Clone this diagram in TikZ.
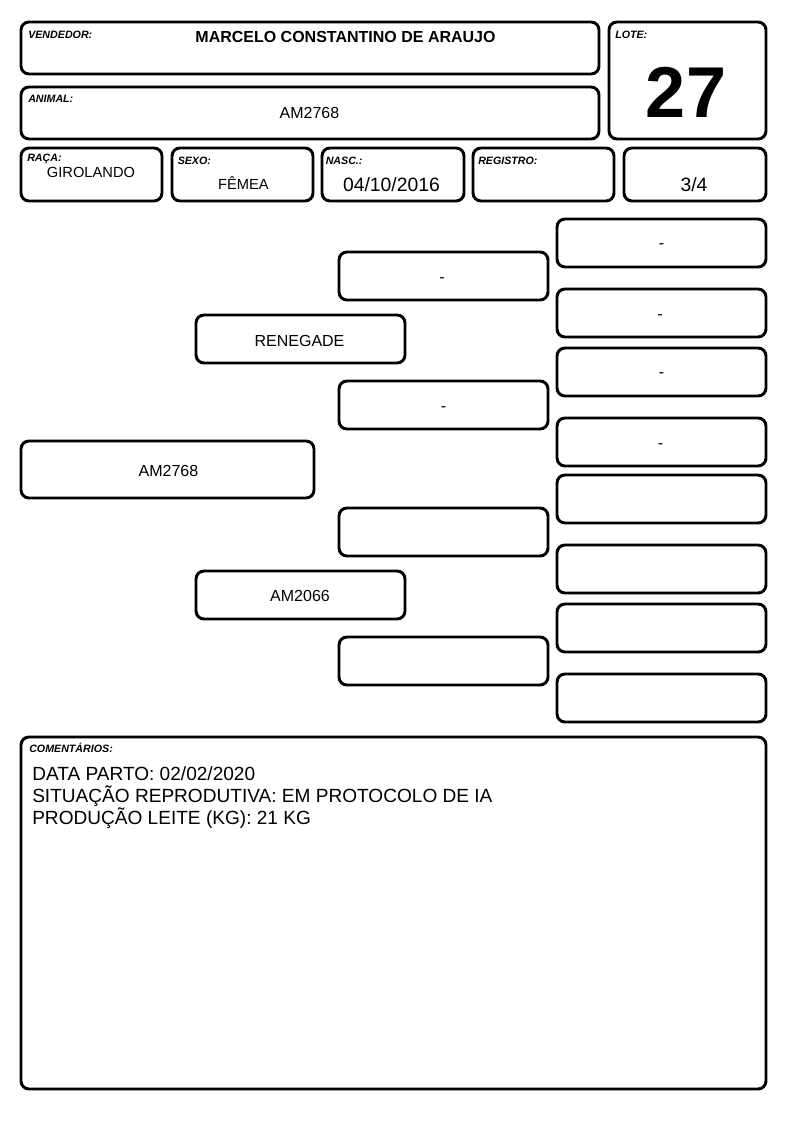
\documentclass[tikz,border=0pt]{standalone}
\usepackage{fontspec}
\setmainfont{Liberation Sans}

\begin{document}
\begin{tikzpicture}[x=0.75pt,y=0.75pt,yscale=-1,xscale=1,
  caixa/.style={line width=2.2pt, rounded corners=6pt},
  rotulo/.style={anchor=base west, inner sep=0pt, font=\fontsize{8}{9}\selectfont\bfseries\itshape},
  valor/.style={anchor=base, inner sep=0pt, font=\fontsize{12}{14}\selectfont},
  tracinho/.style={anchor=center, inner sep=0pt, font=\fontsize{12}{14}\selectfont}]
\useasboundingbox (0,0) rectangle (794,1123);

%Rounded Rect vendedor
\draw [caixa] (21,22) rectangle (599,74) ;
%Rounded Rect animal
\draw [caixa] (21,87) rectangle (599,139) ;
%Rounded Rect lote
\draw [caixa] (609,22) rectangle (766,139) ;
%Rounded Rect raca
\draw [caixa] (21,148) rectangle (162,201) ;
%Rounded Rect sexo
\draw [caixa] (172,148) rectangle (313,201) ;
%Rounded Rect nascimento
\draw [caixa] (322,148) rectangle (464,201) ;
%Rounded Rect registro
\draw [caixa] (473,148) rectangle (614,201) ;
%Rounded Rect grau
\draw [caixa] (624,148) rectangle (766,201) ;

%Rounded Rect pedigree - animal
\draw [caixa] (21,441) rectangle (314,498) ;
%Rounded Rect pedigree - pai e mae
\draw [caixa] (196,315) rectangle (405,363) ;
\draw [caixa] (196,571) rectangle (405,619) ;
%Rounded Rect pedigree - avos
\draw [caixa] (339,252) rectangle (548,300) ;
\draw [caixa] (339,381) rectangle (548,429) ;
\draw [caixa] (339,508) rectangle (548,556) ;
\draw [caixa] (339,637) rectangle (548,685) ;
%Rounded Rect pedigree - bisavos
\draw [caixa] (557,219) rectangle (766,267) ;
\draw [caixa] (557,289) rectangle (766,337) ;
\draw [caixa] (557,348) rectangle (766,396) ;
\draw [caixa] (557,418) rectangle (766,466) ;
\draw [caixa] (557,475) rectangle (766,523) ;
\draw [caixa] (557,545) rectangle (766,593) ;
\draw [caixa] (557,604) rectangle (766,652) ;
\draw [caixa] (557,674) rectangle (766,722) ;

%Rounded Rect comentarios
\draw [caixa] (21,737) rectangle (766,1089) ;

% Text Node
\node [rotulo] (rotVendedor) at (28,39) {VENDEDOR:};
% Text Node
\node [valor, font=\fontsize{12}{14}\selectfont\bfseries] (nomeVendedor) at (345.5,43) {MARCELO CONSTANTINO DE ARAUJO};
% Text Node
\node [rotulo] (rotAnimal) at (28,103) {ANIMAL:};
% Text Node
\node [valor] (nomeAnimal) at (309.5,119) {AM2768};
% Text Node
\node [rotulo] (rotLote) at (615,39) {LOTE:};
% Text Node
\node [valor, font=\fontsize{54}{60}\selectfont\bfseries] (numLote) at (686,118) {27};
% Text Node
\node [rotulo] (rotRaca) at (27,162) {RAÇA:};
% Text Node
\node [valor, font=\fontsize{11}{13}\selectfont] (raca) at (91,178) {GIROLANDO};
% Text Node
\node [rotulo] (rotSexo) at (177.5,165) {SEXO:};
% Text Node
\node [valor, font=\fontsize{11}{13}\selectfont] (sexo) at (243.5,189.5) {FÊMEA};
% Text Node
\node [rotulo] (rotNasc) at (325.5,165) {NASC.:};
% Text Node
\node [valor, font=\fontsize{14.5}{17}\selectfont] (nasc) at (391.5,191.5) {04/10/2016};
% Text Node
\node [rotulo] (rotRegistro) at (478,165) {REGISTRO:};
% Text Node
\node [valor, font=\fontsize{14.5}{17}\selectfont] (grau) at (694,191.5) {3/4};

% Text Node
\node [valor] (pedAnimal) at (168.5,476) {AM2768};
% Text Node
\node [valor] (pedPai) at (299.5,346) {RENEGADE};
% Text Node
\node [valor] (pedMae) at (300,601) {AM2066};
% Text Node
\node [tracinho] (avoPaterno) at (442,280) {-};
% Text Node
\node [tracinho] (avoPaterna) at (443.5,409) {-};
% Text Node
\node [tracinho] (bisavo1) at (661.5,246.5) {-};
% Text Node
\node [tracinho] (bisavo2) at (660,317) {-};
% Text Node
\node [tracinho] (bisavo3) at (661.5,375.5) {-};
% Text Node
\node [tracinho] (bisavo4) at (660.5,446) {-};

% Text Node
\node [rotulo] (rotComentarios) at (29,752.5) {COMENTÁRIOS:};
% Text Node
\node [anchor=base west, inner sep=0pt, align=left, font=\fontsize{14.3}{16.3}\selectfont] (comentarios) at (32,824) {DATA PARTO: 02/02/2020\\SITUAÇÃO REPRODUTIVA: EM PROTOCOLO DE IA\\PRODUÇÃO LEITE (KG): 21 KG};

\end{tikzpicture}
\end{document}
